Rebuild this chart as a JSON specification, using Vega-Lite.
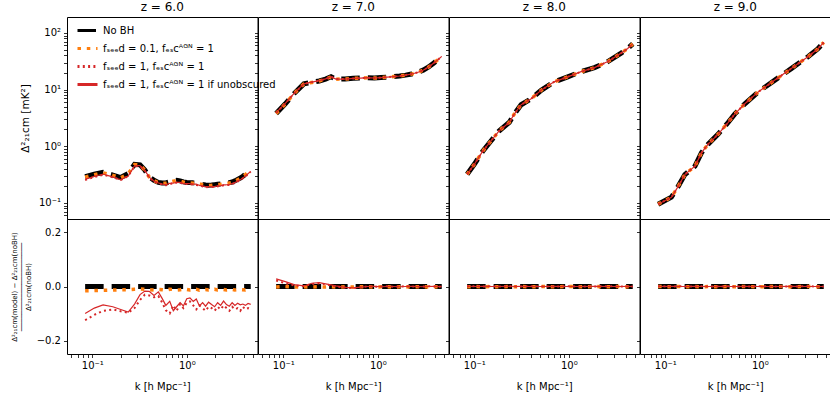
{
  "$schema": "https://vega.github.io/schema/vega-lite/v6.json",
  "padding": {"left": 9, "top": 0, "right": 0, "bottom": 0},
  "background": "white",
  "config": {
    "font": "DejaVu Sans",
    "view": {"stroke": "#000", "strokeWidth": 1},
    "axis": {"grid": false, "domain": false, "tickColor": "#000", "labelColor": "#000", "labelFontSize": 10, "titleColor": "#000", "titleFontWeight": "normal", "labelFlush": false, "labelOverlap": false, "tickWidth": 0.8},
    "title": {"fontSize": 12, "fontWeight": "normal", "offset": 3, "color": "#000"}
  },
  "data": {"values": [
    {"z":6,"k":0.084,"a":0.29,"b":0.285,"c":0.254,"d":0.261,"ra":0,"rb":-0.016,"rc":-0.125,"rd":-0.1},
    {"z":6,"k":0.105,"a":0.32,"b":0.315,"c":0.286,"d":0.294,"ra":0,"rb":-0.015,"rc":-0.105,"rd":-0.08},
    {"z":6,"k":0.13,"a":0.345,"b":0.34,"c":0.314,"d":0.322,"ra":0,"rb":-0.014,"rc":-0.09,"rd":-0.068},
    {"z":6,"k":0.165,"a":0.31,"b":0.306,"c":0.284,"d":0.287,"ra":0,"rb":-0.013,"rc":-0.085,"rd":-0.075},
    {"z":6,"k":0.2,"a":0.28,"b":0.277,"c":0.254,"d":0.256,"ra":0,"rb":-0.012,"rc":-0.092,"rd":-0.085},
    {"z":6,"k":0.24,"a":0.33,"b":0.326,"c":0.298,"d":0.299,"ra":0,"rb":-0.012,"rc":-0.097,"rd":-0.095},
    {"z":6,"k":0.28,"a":0.48,"b":0.475,"c":0.442,"d":0.449,"ra":0,"rb":-0.01,"rc":-0.08,"rd":-0.065},
    {"z":6,"k":0.32,"a":0.47,"b":0.466,"c":0.447,"d":0.456,"ra":0,"rb":-0.009,"rc":-0.05,"rd":-0.03},
    {"z":6,"k":0.36,"a":0.38,"b":0.376,"c":0.369,"d":0.374,"ra":0,"rb":-0.01,"rc":-0.03,"rd":-0.017},
    {"z":6,"k":0.4,"a":0.29,"b":0.287,"c":0.28,"d":0.285,"ra":0,"rb":-0.012,"rc":-0.033,"rd":-0.018},
    {"z":6,"k":0.45,"a":0.25,"b":0.247,"c":0.24,"d":0.242,"ra":0,"rb":-0.013,"rc":-0.04,"rd":-0.033},
    {"z":6,"k":0.5,"a":0.23,"b":0.227,"c":0.222,"d":0.225,"ra":0,"rb":-0.011,"rc":-0.035,"rd":-0.02},
    {"z":6,"k":0.55,"a":0.225,"b":0.222,"c":0.212,"d":0.215,"ra":0,"rb":-0.012,"rc":-0.06,"rd":-0.045},
    {"z":6,"k":0.6,"a":0.225,"b":0.222,"c":0.205,"d":0.209,"ra":0,"rb":-0.014,"rc":-0.088,"rd":-0.07},
    {"z":6,"k":0.66,"a":0.235,"b":0.233,"c":0.212,"d":0.222,"ra":0,"rb":-0.01,"rc":-0.1,"rd":-0.055},
    {"z":6,"k":0.72,"a":0.245,"b":0.242,"c":0.228,"d":0.223,"ra":0,"rb":-0.011,"rc":-0.07,"rd":-0.09},
    {"z":6,"k":0.78,"a":0.25,"b":0.247,"c":0.228,"d":0.231,"ra":0,"rb":-0.013,"rc":-0.09,"rd":-0.075},
    {"z":6,"k":0.85,"a":0.245,"b":0.242,"c":0.229,"d":0.23,"ra":0,"rb":-0.012,"rc":-0.065,"rd":-0.06},
    {"z":6,"k":0.92,"a":0.235,"b":0.233,"c":0.216,"d":0.218,"ra":0,"rb":-0.01,"rc":-0.08,"rd":-0.072},
    {"z":6,"k":1.0,"a":0.23,"b":0.227,"c":0.216,"d":0.22,"ra":0,"rb":-0.011,"rc":-0.06,"rd":-0.045},
    {"z":6,"k":1.08,"a":0.228,"b":0.225,"c":0.215,"d":0.218,"ra":0,"rb":-0.013,"rc":-0.055,"rd":-0.042},
    {"z":6,"k":1.17,"a":0.226,"b":0.223,"c":0.21,"d":0.214,"ra":0,"rb":-0.012,"rc":-0.07,"rd":-0.055},
    {"z":6,"k":1.26,"a":0.225,"b":0.223,"c":0.206,"d":0.215,"ra":0,"rb":-0.01,"rc":-0.085,"rd":-0.046},
    {"z":6,"k":1.36,"a":0.22,"b":0.217,"c":0.205,"d":0.204,"ra":0,"rb":-0.014,"rc":-0.07,"rd":-0.072},
    {"z":6,"k":1.47,"a":0.212,"b":0.209,"c":0.195,"d":0.199,"ra":0,"rb":-0.012,"rc":-0.08,"rd":-0.06},
    {"z":6,"k":1.58,"a":0.208,"b":0.206,"c":0.189,"d":0.193,"ra":0,"rb":-0.011,"rc":-0.09,"rd":-0.073},
    {"z":6,"k":1.7,"a":0.206,"b":0.203,"c":0.191,"d":0.194,"ra":0,"rb":-0.013,"rc":-0.075,"rd":-0.058},
    {"z":6,"k":1.83,"a":0.207,"b":0.205,"c":0.19,"d":0.193,"ra":0,"rb":-0.012,"rc":-0.08,"rd":-0.067},
    {"z":6,"k":1.97,"a":0.21,"b":0.208,"c":0.191,"d":0.194,"ra":0,"rb":-0.01,"rc":-0.09,"rd":-0.075},
    {"z":6,"k":2.12,"a":0.213,"b":0.21,"c":0.197,"d":0.2,"ra":0,"rb":-0.013,"rc":-0.075,"rd":-0.06},
    {"z":6,"k":2.28,"a":0.216,"b":0.213,"c":0.198,"d":0.201,"ra":0,"rb":-0.012,"rc":-0.085,"rd":-0.07},
    {"z":6,"k":2.45,"a":0.22,"b":0.218,"c":0.205,"d":0.208,"ra":0,"rb":-0.011,"rc":-0.07,"rd":-0.054},
    {"z":6,"k":2.63,"a":0.224,"b":0.221,"c":0.206,"d":0.209,"ra":0,"rb":-0.013,"rc":-0.08,"rd":-0.067},
    {"z":6,"k":2.82,"a":0.228,"b":0.225,"c":0.207,"d":0.211,"ra":0,"rb":-0.012,"rc":-0.09,"rd":-0.073},
    {"z":6,"k":3.02,"a":0.234,"b":0.231,"c":0.216,"d":0.22,"ra":0,"rb":-0.011,"rc":-0.075,"rd":-0.06},
    {"z":6,"k":3.23,"a":0.245,"b":0.242,"c":0.224,"d":0.228,"ra":0,"rb":-0.013,"rc":-0.085,"rd":-0.07},
    {"z":6,"k":3.45,"a":0.26,"b":0.257,"c":0.239,"d":0.244,"ra":0,"rb":-0.012,"rc":-0.08,"rd":-0.062},
    {"z":6,"k":3.68,"a":0.275,"b":0.272,"c":0.25,"d":0.256,"ra":0,"rb":-0.011,"rc":-0.09,"rd":-0.068},
    {"z":6,"k":3.92,"a":0.295,"b":0.291,"c":0.273,"d":0.276,"ra":0,"rb":-0.012,"rc":-0.075,"rd":-0.065},
    {"z":6,"k":4.17,"a":0.32,"b":0.316,"c":0.293,"d":0.298,"ra":0,"rb":-0.013,"rc":-0.085,"rd":-0.07},
    {"z":6,"k":4.45,"a":0.35,"b":0.346,"c":0.322,"d":0.328,"ra":0,"rb":-0.011,"rc":-0.08,"rd":-0.063},
    {"z":6,"k":4.75,"a":0.385,"b":0.38,"c":0.352,"d":0.36,"ra":0,"rb":-0.012,"rc":-0.085,"rd":-0.066},
    {"z":7,"k":0.084,"a":3.8,"b":3.79,"c":3.88,"d":3.91,"ra":0,"rb":-0.002,"rc":0.022,"rd":0.028},
    {"z":7,"k":0.105,"a":5.6,"b":5.6,"c":5.67,"d":5.7,"ra":0,"rb":0,"rc":0.012,"rd":0.018},
    {"z":7,"k":0.13,"a":8.5,"b":8.48,"c":8.53,"d":8.56,"ra":0,"rb":-0.002,"rc":0.004,"rd":0.007},
    {"z":7,"k":0.165,"a":12.6,"b":12.59,"c":12.61,"d":12.63,"ra":0,"rb":-0.001,"rc":0.001,"rd":0.002},
    {"z":7,"k":0.2,"a":13.4,"b":13.37,"c":13.52,"d":13.56,"ra":0,"rb":-0.002,"rc":0.009,"rd":0.012},
    {"z":7,"k":0.24,"a":14.2,"b":14.19,"c":14.37,"d":14.4,"ra":0,"rb":-0.001,"rc":0.012,"rd":0.014},
    {"z":7,"k":0.28,"a":15.3,"b":15.27,"c":15.42,"d":15.45,"ra":0,"rb":-0.002,"rc":0.008,"rd":0.01},
    {"z":7,"k":0.32,"a":16.8,"b":16.78,"c":16.87,"d":16.9,"ra":0,"rb":-0.001,"rc":0.004,"rd":0.006},
    {"z":7,"k":0.36,"a":15.3,"b":15.27,"c":15.3,"d":15.33,"ra":0,"rb":-0.002,"rc":0,"rd":0.002},
    {"z":7,"k":0.45,"a":15.4,"b":15.38,"c":15.34,"d":15.35,"ra":0,"rb":-0.001,"rc":-0.004,"rd":-0.003},
    {"z":7,"k":0.55,"a":15.8,"b":15.77,"c":15.71,"d":15.72,"ra":0,"rb":-0.002,"rc":-0.006,"rd":-0.005},
    {"z":7,"k":0.66,"a":16.0,"b":15.98,"c":15.95,"d":15.97,"ra":0,"rb":-0.001,"rc":-0.003,"rd":-0.002},
    {"z":7,"k":0.78,"a":16.2,"b":16.18,"c":16.22,"d":16.2,"ra":0,"rb":-0.001,"rc":0.001,"rd":0},
    {"z":7,"k":0.92,"a":16.0,"b":15.97,"c":15.98,"d":16.02,"ra":0,"rb":-0.002,"rc":-0.001,"rd":0.001},
    {"z":7,"k":1.08,"a":16.3,"b":16.28,"c":16.3,"d":16.28,"ra":0,"rb":-0.001,"rc":0,"rd":-0.001},
    {"z":7,"k":1.26,"a":16.6,"b":16.58,"c":16.62,"d":16.6,"ra":0,"rb":-0.001,"rc":0.001,"rd":0},
    {"z":7,"k":1.47,"a":17.0,"b":16.97,"c":16.98,"d":17.0,"ra":0,"rb":-0.002,"rc":-0.001,"rd":0},
    {"z":7,"k":1.7,"a":17.4,"b":17.38,"c":17.4,"d":17.38,"ra":0,"rb":-0.001,"rc":0,"rd":-0.001},
    {"z":7,"k":1.97,"a":18.0,"b":17.98,"c":18.02,"d":18.0,"ra":0,"rb":-0.001,"rc":0.001,"rd":0},
    {"z":7,"k":2.28,"a":18.8,"b":18.76,"c":18.8,"d":18.82,"ra":0,"rb":-0.002,"rc":0,"rd":0.001},
    {"z":7,"k":2.63,"a":20.0,"b":19.98,"c":19.98,"d":20.0,"ra":0,"rb":-0.001,"rc":-0.001,"rd":0},
    {"z":7,"k":3.02,"a":22.0,"b":21.98,"c":22.0,"d":21.98,"ra":0,"rb":-0.001,"rc":0,"rd":-0.001},
    {"z":7,"k":3.45,"a":25.0,"b":24.95,"c":25.03,"d":25.0,"ra":0,"rb":-0.002,"rc":0.001,"rd":0},
    {"z":7,"k":3.92,"a":29.5,"b":29.47,"c":29.5,"d":29.53,"ra":0,"rb":-0.001,"rc":0,"rd":0.001},
    {"z":7,"k":4.45,"a":35.0,"b":34.97,"c":34.97,"d":35.0,"ra":0,"rb":-0.001,"rc":-0.001,"rd":0},
    {"z":7,"k":4.75,"a":38.5,"b":38.46,"c":38.5,"d":38.5,"ra":0,"rb":-0.001,"rc":0,"rd":0},
    {"z":8,"k":0.084,"a":0.32,"b":0.32,"c":0.32,"d":0.32,"ra":0,"rb":-0.001,"rc":0.001,"rd":0.001},
    {"z":8,"k":0.1,"a":0.48,"b":0.48,"c":0.48,"d":0.48,"ra":0,"rb":0,"rc":0.001,"rd":0},
    {"z":8,"k":0.123,"a":0.82,"b":0.82,"c":0.82,"d":0.82,"ra":0,"rb":-0.001,"rc":0,"rd":0.001},
    {"z":8,"k":0.15,"a":1.24,"b":1.24,"c":1.24,"d":1.24,"ra":0,"rb":0,"rc":0.001,"rd":0},
    {"z":8,"k":0.184,"a":1.88,"b":1.88,"c":1.88,"d":1.88,"ra":0,"rb":-0.001,"rc":0,"rd":0},
    {"z":8,"k":0.235,"a":2.65,"b":2.65,"c":2.65,"d":2.65,"ra":0,"rb":0,"rc":0.001,"rd":0.001},
    {"z":8,"k":0.265,"a":3.7,"b":3.7,"c":3.7,"d":3.7,"ra":0,"rb":-0.001,"rc":0,"rd":0},
    {"z":8,"k":0.313,"a":5.4,"b":5.4,"c":5.4,"d":5.4,"ra":0,"rb":0,"rc":0,"rd":0.001},
    {"z":8,"k":0.4,"a":6.9,"b":6.9,"c":6.9,"d":6.9,"ra":0,"rb":-0.001,"rc":0.001,"rd":0},
    {"z":8,"k":0.51,"a":9.7,"b":9.7,"c":9.7,"d":9.7,"ra":0,"rb":0,"rc":0,"rd":0},
    {"z":8,"k":0.7,"a":13.7,"b":13.7,"c":13.7,"d":13.7,"ra":0,"rb":-0.001,"rc":0,"rd":0.001},
    {"z":8,"k":0.975,"a":16.8,"b":16.8,"c":16.8,"d":16.8,"ra":0,"rb":0,"rc":0.001,"rd":0},
    {"z":8,"k":1.35,"a":20.7,"b":20.7,"c":20.7,"d":20.7,"ra":0,"rb":-0.001,"rc":0,"rd":0},
    {"z":8,"k":1.87,"a":24.4,"b":24.4,"c":24.4,"d":24.4,"ra":0,"rb":0,"rc":0,"rd":0.001},
    {"z":8,"k":2.59,"a":31.2,"b":31.2,"c":31.2,"d":31.2,"ra":0,"rb":-0.001,"rc":0.001,"rd":0},
    {"z":8,"k":3.58,"a":44,"b":44,"c":44,"d":44,"ra":0,"rb":0,"rc":0,"rd":0},
    {"z":8,"k":4.2,"a":53,"b":53,"c":53,"d":53,"ra":0,"rb":-0.001,"rc":0,"rd":0.001},
    {"z":8,"k":4.75,"a":64,"b":64,"c":64,"d":64,"ra":0,"rb":0,"rc":0,"rd":0},
    {"z":9,"k":0.084,"a":0.095,"b":0.095,"c":0.095,"d":0.095,"ra":0,"rb":0,"rc":0.001,"rd":0},
    {"z":9,"k":0.116,"a":0.126,"b":0.126,"c":0.126,"d":0.126,"ra":0,"rb":-0.001,"rc":0,"rd":0.001},
    {"z":9,"k":0.137,"a":0.196,"b":0.196,"c":0.196,"d":0.196,"ra":0,"rb":0,"rc":0.001,"rd":0},
    {"z":9,"k":0.161,"a":0.316,"b":0.316,"c":0.316,"d":0.316,"ra":0,"rb":-0.001,"rc":0,"rd":0},
    {"z":9,"k":0.206,"a":0.446,"b":0.446,"c":0.446,"d":0.446,"ra":0,"rb":0,"rc":0,"rd":0.001},
    {"z":9,"k":0.242,"a":0.77,"b":0.77,"c":0.77,"d":0.77,"ra":0,"rb":-0.001,"rc":0.001,"rd":0},
    {"z":9,"k":0.284,"a":1.09,"b":1.09,"c":1.09,"d":1.09,"ra":0,"rb":0,"rc":0,"rd":0},
    {"z":9,"k":0.363,"a":1.64,"b":1.64,"c":1.64,"d":1.64,"ra":0,"rb":-0.001,"rc":0,"rd":0.001},
    {"z":9,"k":0.464,"a":2.65,"b":2.65,"c":2.65,"d":2.65,"ra":0,"rb":0,"rc":0.001,"rd":0},
    {"z":9,"k":0.545,"a":3.73,"b":3.73,"c":3.73,"d":3.73,"ra":0,"rb":-0.001,"rc":0,"rd":0},
    {"z":9,"k":0.695,"a":5.62,"b":5.62,"c":5.62,"d":5.62,"ra":0,"rb":0,"rc":0,"rd":0.001},
    {"z":9,"k":0.964,"a":9.1,"b":9.1,"c":9.1,"d":9.1,"ra":0,"rb":-0.001,"rc":0.001,"rd":0},
    {"z":9,"k":1.445,"a":14.7,"b":14.7,"c":14.7,"d":14.7,"ra":0,"rb":0,"rc":0,"rd":0},
    {"z":9,"k":2.17,"a":23.7,"b":23.7,"c":23.7,"d":23.7,"ra":0,"rb":-0.001,"rc":0,"rd":0.001},
    {"z":9,"k":3.26,"a":38.4,"b":38.4,"c":38.4,"d":38.4,"ra":0,"rb":0,"rc":0.001,"rd":0},
    {"z":9,"k":4.1,"a":52,"b":52,"c":52,"d":52,"ra":0,"rb":-0.001,"rc":0,"rd":0},
    {"z":9,"k":4.75,"a":68,"b":68,"c":68,"d":68,"ra":0,"rb":0,"rc":0,"rd":0}
  ]},
  "resolve": {"scale": {"color": "independent", "strokeDash": "independent"}, "legend": {"color": "independent", "strokeDash": "independent"}},
  "columns": 4,
  "spacing": 0,
  "bounds": "flush",
  "concat": [
    {
      "width": 190.5, "height": 202, "title": "z = 6.0",
      "transform": [{"filter": "datum.z == 6"}],
      "encoding": {"x": {"field": "k", "type": "quantitative", "scale": {"type": "log", "domain": [0.054, 5.6], "nice": false}, "axis": null}},
      "layer": [
        {"mark": {"type": "line", "strokeWidth": 5},
         "encoding": {
           "y": {"field": "a", "type": "quantitative", "scale": {"type": "log", "domain": [0.052, 191], "nice": false},
                 "axis": {"values": [0.06,0.07,0.08,0.09,0.1,0.2,0.3,0.4,0.5,0.6,0.7,0.8,0.9,1,2,3,4,5,6,7,8,9,10,20,30,40,50,60,70,80,90,100],
                          "labelExpr": "datum.value == 0.1 ? '10⁻¹' : datum.value == 1 ? '10⁰' : datum.value == 10 ? '10¹' : datum.value == 100 ? '10²' : ''",
                          "tickSize": 3.5, "labelPadding": 3, "title": "Δ²₂₁cm [mK²]", "titleFontSize": 10.5, "titlePadding": 8,
                          "encode": {"ticks": {"x2": {"condition": {"test": "datum.value == 0.1 || datum.value == 1 || datum.value == 10 || datum.value == 100", "value": -3.5}, "value": -2}}}}},
           "color": {"datum": "No BH", "scale": {"domain": ["No BH", "fₛₑₑd = 0.1, fₑₛcᴬᴳᴺ = 1", "fₛₑₑd = 1, fₑₛcᴬᴳᴺ = 1", "fₛₑₑd = 1, fₑₛcᴬᴳᴺ = 1 if unobscured"], "range": ["#000000", "#ff7f0e", "#d62728", "#d62728"]},
                     "legend": {"orient": "none", "legendX": 9, "legendY": 2, "title": null, "symbolType": "stroke", "symbolSize": 400, "symbolStrokeWidth": 3, "labelFontSize": 10, "padding": 0, "rowPadding": 0, "labelOffset": 4, "labelLimit": 300}},
           "strokeDash": {"datum": "No BH", "scale": {"domain": ["No BH", "fₛₑₑd = 0.1, fₑₛcᴬᴳᴺ = 1", "fₛₑₑd = 1, fₑₛcᴬᴳᴺ = 1", "fₛₑₑd = 1, fₑₛcᴬᴳᴺ = 1 if unobscured"], "range": [[18.5, 8], [3.5, 5.8], [2, 3.3], [1, 0]]},
                          "legend": {"orient": "none", "legendX": 9, "legendY": 2, "title": null, "symbolType": "stroke", "symbolSize": 400, "symbolStrokeWidth": 3, "labelFontSize": 10, "padding": 0, "rowPadding": 0, "labelOffset": 4, "labelLimit": 300}}
         }},
        {"mark": {"type": "line", "strokeWidth": 3.5},
         "encoding": {"y": {"field": "b", "type": "quantitative",
                 "axis": {"values": [0.06,0.07,0.08,0.09,0.1,0.2,0.3,0.4,0.5,0.6,0.7,0.8,0.9,1,2,3,4,5,6,7,8,9,10,20,30,40,50,60,70,80,90,100],
                          "labelExpr": "datum.value == 0.1 ? '10⁻¹' : datum.value == 1 ? '10⁰' : datum.value == 10 ? '10¹' : datum.value == 100 ? '10²' : ''",
                          "tickSize": 3.5, "labelPadding": 3, "title": "Δ²₂₁cm [mK²]", "titleFontSize": 10.5, "titlePadding": 8,
                          "encode": {"ticks": {"x2": {"condition": {"test": "datum.value == 0.1 || datum.value == 1 || datum.value == 10 || datum.value == 100", "value": -3.5}, "value": -2}}}}},
                      "color": {"datum": "fₛₑₑd = 0.1, fₑₛcᴬᴳᴺ = 1"}, "strokeDash": {"datum": "fₛₑₑd = 0.1, fₑₛcᴬᴳᴺ = 1"}}},
        {"mark": {"type": "line", "strokeWidth": 2},
         "encoding": {"y": {"field": "c", "type": "quantitative",
                 "axis": {"values": [0.06,0.07,0.08,0.09,0.1,0.2,0.3,0.4,0.5,0.6,0.7,0.8,0.9,1,2,3,4,5,6,7,8,9,10,20,30,40,50,60,70,80,90,100],
                          "labelExpr": "datum.value == 0.1 ? '10⁻¹' : datum.value == 1 ? '10⁰' : datum.value == 10 ? '10¹' : datum.value == 100 ? '10²' : ''",
                          "tickSize": 3.5, "labelPadding": 3, "title": "Δ²₂₁cm [mK²]", "titleFontSize": 10.5, "titlePadding": 8,
                          "encode": {"ticks": {"x2": {"condition": {"test": "datum.value == 0.1 || datum.value == 1 || datum.value == 10 || datum.value == 100", "value": -3.5}, "value": -2}}}}},
                      "color": {"datum": "fₛₑₑd = 1, fₑₛcᴬᴳᴺ = 1"}, "strokeDash": {"datum": "fₛₑₑd = 1, fₑₛcᴬᴳᴺ = 1"}}},
        {"mark": {"type": "line", "strokeWidth": 1.2},
         "encoding": {"y": {"field": "d", "type": "quantitative",
                 "axis": {"values": [0.06,0.07,0.08,0.09,0.1,0.2,0.3,0.4,0.5,0.6,0.7,0.8,0.9,1,2,3,4,5,6,7,8,9,10,20,30,40,50,60,70,80,90,100],
                          "labelExpr": "datum.value == 0.1 ? '10⁻¹' : datum.value == 1 ? '10⁰' : datum.value == 10 ? '10¹' : datum.value == 100 ? '10²' : ''",
                          "tickSize": 3.5, "labelPadding": 3, "title": "Δ²₂₁cm [mK²]", "titleFontSize": 10.5, "titlePadding": 8,
                          "encode": {"ticks": {"x2": {"condition": {"test": "datum.value == 0.1 || datum.value == 1 || datum.value == 10 || datum.value == 100", "value": -3.5}, "value": -2}}}}},
                      "color": {"datum": "fₛₑₑd = 1, fₑₛcᴬᴳᴺ = 1 if unobscured"}, "strokeDash": {"datum": "fₛₑₑd = 1, fₑₛcᴬᴳᴺ = 1 if unobscured"}}}
      ]
    },
    {
      "width": 190.5, "height": 202, "title": "z = 7.0",
      "transform": [{"filter": "datum.z == 7"}],
      "encoding": {"x": {"field": "k", "type": "quantitative", "scale": {"type": "log", "domain": [0.054, 5.6], "nice": false}, "axis": null}},
      "layer": [
        {"mark": {"type": "line", "strokeWidth": 5, "color": "#000000", "strokeDash": [18.5, 8]},
         "encoding": {"y": {"field": "a", "type": "quantitative", "scale": {"type": "log", "domain": [0.052, 191], "nice": false},
                 "axis": {"values": [0.06,0.07,0.08,0.09,0.1,0.2,0.3,0.4,0.5,0.6,0.7,0.8,0.9,1,2,3,4,5,6,7,8,9,10,20,30,40,50,60,70,80,90,100], "labels": false, "title": null, "tickSize": 3.5,
                          "encode": {"ticks": {"x2": {"condition": {"test": "datum.value == 0.1 || datum.value == 1 || datum.value == 10 || datum.value == 100", "value": -3.5}, "value": -2}}}}}}},
        {"mark": {"type": "line", "strokeWidth": 3.5, "color": "#ff7f0e", "strokeDash": [3.5, 5.8]}, "encoding": {"y": {"field": "b", "type": "quantitative", "title": null}}},
        {"mark": {"type": "line", "strokeWidth": 2, "color": "#d62728", "strokeDash": [2, 3.3]}, "encoding": {"y": {"field": "c", "type": "quantitative", "title": null}}},
        {"mark": {"type": "line", "strokeWidth": 1.2, "color": "#d62728"}, "encoding": {"y": {"field": "d", "type": "quantitative", "title": null}}}
      ]
    },
    {
      "width": 190.5, "height": 202, "title": "z = 8.0",
      "transform": [{"filter": "datum.z == 8"}],
      "encoding": {"x": {"field": "k", "type": "quantitative", "scale": {"type": "log", "domain": [0.054, 5.6], "nice": false}, "axis": null}},
      "layer": [
        {"mark": {"type": "line", "strokeWidth": 5, "color": "#000000", "strokeDash": [18.5, 8]},
         "encoding": {"y": {"field": "a", "type": "quantitative", "scale": {"type": "log", "domain": [0.052, 191], "nice": false},
                 "axis": {"values": [0.06,0.07,0.08,0.09,0.1,0.2,0.3,0.4,0.5,0.6,0.7,0.8,0.9,1,2,3,4,5,6,7,8,9,10,20,30,40,50,60,70,80,90,100], "labels": false, "title": null, "tickSize": 3.5,
                          "encode": {"ticks": {"x2": {"condition": {"test": "datum.value == 0.1 || datum.value == 1 || datum.value == 10 || datum.value == 100", "value": -3.5}, "value": -2}}}}}}},
        {"mark": {"type": "line", "strokeWidth": 3.5, "color": "#ff7f0e", "strokeDash": [3.5, 5.8]}, "encoding": {"y": {"field": "b", "type": "quantitative", "title": null}}},
        {"mark": {"type": "line", "strokeWidth": 2, "color": "#d62728", "strokeDash": [2, 3.3]}, "encoding": {"y": {"field": "c", "type": "quantitative", "title": null}}},
        {"mark": {"type": "line", "strokeWidth": 1.2, "color": "#d62728"}, "encoding": {"y": {"field": "d", "type": "quantitative", "title": null}}}
      ]
    },
    {
      "width": 190.5, "height": 202, "title": "z = 9.0",
      "transform": [{"filter": "datum.z == 9"}],
      "encoding": {"x": {"field": "k", "type": "quantitative", "scale": {"type": "log", "domain": [0.054, 5.6], "nice": false}, "axis": null}},
      "layer": [
        {"mark": {"type": "line", "strokeWidth": 5, "color": "#000000", "strokeDash": [18.5, 8]},
         "encoding": {"y": {"field": "a", "type": "quantitative", "scale": {"type": "log", "domain": [0.052, 191], "nice": false},
                 "axis": {"values": [0.06,0.07,0.08,0.09,0.1,0.2,0.3,0.4,0.5,0.6,0.7,0.8,0.9,1,2,3,4,5,6,7,8,9,10,20,30,40,50,60,70,80,90,100], "labels": false, "title": null, "tickSize": 3.5,
                          "encode": {"ticks": {"x2": {"condition": {"test": "datum.value == 0.1 || datum.value == 1 || datum.value == 10 || datum.value == 100", "value": -3.5}, "value": -2}}}}}}},
        {"mark": {"type": "line", "strokeWidth": 3.5, "color": "#ff7f0e", "strokeDash": [3.5, 5.8]}, "encoding": {"y": {"field": "b", "type": "quantitative", "title": null}}},
        {"mark": {"type": "line", "strokeWidth": 2, "color": "#d62728", "strokeDash": [2, 3.3]}, "encoding": {"y": {"field": "c", "type": "quantitative", "title": null}}},
        {"mark": {"type": "line", "strokeWidth": 1.2, "color": "#d62728"}, "encoding": {"y": {"field": "d", "type": "quantitative", "title": null}}}
      ]
    },
    {
      "width": 190.5, "height": 135,
      "transform": [{"filter": "datum.z == 6"}],
      "encoding": {"x": {"field": "k", "type": "quantitative", "scale": {"type": "log", "domain": [0.054, 5.6], "nice": false},
                         "axis": {"values": [0.06,0.07,0.08,0.09,0.1,0.2,0.3,0.4,0.5,0.6,0.7,0.8,0.9,1,2,3,4,5], "labelExpr": "datum.value == 0.1 ? '10⁻¹' : datum.value == 1 ? '10⁰' : ''", "tickSize": 3.5, "labelPadding": 3, "title": "k [h Mpc⁻¹]", "titleFontSize": 10, "titlePadding": 11,
                                  "encode": {"ticks": {"y2": {"condition": {"test": "datum.value == 0.1 || datum.value == 1", "value": 3.5}, "value": 2}}}}}},
      "layer": [
        {"mark": {"type": "line", "strokeWidth": 5, "color": "#000000", "strokeDash": [18.5, 8]},
         "encoding": {"y": {"field": "ra", "type": "quantitative", "scale": {"domain": [-0.25, 0.25], "nice": false, "zero": false},
                 "axis": {"values": [-0.2, -0.1, 0, 0.1, 0.2], "format": ".1f", "tickSize": 3.5, "labelPadding": 3,
                          "title": ["Δ²₂₁cm(model) − Δ²₂₁cm(noBH)", "─────────────────────", "Δ²₂₁cm(noBH)"], "titleFontSize": 7, "titleLineHeight": 7, "titlePadding": 5}}}},
        {"mark": {"type": "line", "strokeWidth": 3.5, "color": "#ff7f0e", "strokeDash": [3.5, 5.8]}, "encoding": {"y": {"field": "rb", "type": "quantitative", "title": ["Δ²₂₁cm(model) − Δ²₂₁cm(noBH)", "─────────────────────", "Δ²₂₁cm(noBH)"]}}},
        {"mark": {"type": "line", "strokeWidth": 2, "color": "#d62728", "strokeDash": [2, 3.3]}, "encoding": {"y": {"field": "rc", "type": "quantitative", "title": ["Δ²₂₁cm(model) − Δ²₂₁cm(noBH)", "─────────────────────", "Δ²₂₁cm(noBH)"]}}},
        {"mark": {"type": "line", "strokeWidth": 1.2, "color": "#d62728"}, "encoding": {"y": {"field": "rd", "type": "quantitative", "title": ["Δ²₂₁cm(model) − Δ²₂₁cm(noBH)", "─────────────────────", "Δ²₂₁cm(noBH)"]}}}
      ]
    },
    {
      "width": 190.5, "height": 135,
      "transform": [{"filter": "datum.z == 7"}],
      "encoding": {"x": {"field": "k", "type": "quantitative", "scale": {"type": "log", "domain": [0.054, 5.6], "nice": false},
                         "axis": {"values": [0.06,0.07,0.08,0.09,0.1,0.2,0.3,0.4,0.5,0.6,0.7,0.8,0.9,1,2,3,4,5], "labelExpr": "datum.value == 0.1 ? '10⁻¹' : datum.value == 1 ? '10⁰' : ''", "tickSize": 3.5, "labelPadding": 3, "title": "k [h Mpc⁻¹]", "titleFontSize": 10, "titlePadding": 11,
                                  "encode": {"ticks": {"y2": {"condition": {"test": "datum.value == 0.1 || datum.value == 1", "value": 3.5}, "value": 2}}}}}},
      "layer": [
        {"mark": {"type": "line", "strokeWidth": 5, "color": "#000000", "strokeDash": [18.5, 8]},
         "encoding": {"y": {"field": "ra", "type": "quantitative", "scale": {"domain": [-0.25, 0.25], "nice": false, "zero": false},
                 "axis": {"values": [-0.2, -0.1, 0, 0.1, 0.2], "labels": false, "title": null, "tickSize": 3.5}}}},
        {"mark": {"type": "line", "strokeWidth": 3.5, "color": "#ff7f0e", "strokeDash": [3.5, 5.8]}, "encoding": {"y": {"field": "rb", "type": "quantitative", "title": null}}},
        {"mark": {"type": "line", "strokeWidth": 2, "color": "#d62728", "strokeDash": [2, 3.3]}, "encoding": {"y": {"field": "rc", "type": "quantitative", "title": null}}},
        {"mark": {"type": "line", "strokeWidth": 1.2, "color": "#d62728"}, "encoding": {"y": {"field": "rd", "type": "quantitative", "title": null}}}
      ]
    },
    {
      "width": 190.5, "height": 135,
      "transform": [{"filter": "datum.z == 8"}],
      "encoding": {"x": {"field": "k", "type": "quantitative", "scale": {"type": "log", "domain": [0.054, 5.6], "nice": false},
                         "axis": {"values": [0.06,0.07,0.08,0.09,0.1,0.2,0.3,0.4,0.5,0.6,0.7,0.8,0.9,1,2,3,4,5], "labelExpr": "datum.value == 0.1 ? '10⁻¹' : datum.value == 1 ? '10⁰' : ''", "tickSize": 3.5, "labelPadding": 3, "title": "k [h Mpc⁻¹]", "titleFontSize": 10, "titlePadding": 11,
                                  "encode": {"ticks": {"y2": {"condition": {"test": "datum.value == 0.1 || datum.value == 1", "value": 3.5}, "value": 2}}}}}},
      "layer": [
        {"mark": {"type": "line", "strokeWidth": 5, "color": "#000000", "strokeDash": [18.5, 8]},
         "encoding": {"y": {"field": "ra", "type": "quantitative", "scale": {"domain": [-0.25, 0.25], "nice": false, "zero": false},
                 "axis": {"values": [-0.2, -0.1, 0, 0.1, 0.2], "labels": false, "title": null, "tickSize": 3.5}}}},
        {"mark": {"type": "line", "strokeWidth": 3.5, "color": "#ff7f0e", "strokeDash": [3.5, 5.8]}, "encoding": {"y": {"field": "rb", "type": "quantitative", "title": null}}},
        {"mark": {"type": "line", "strokeWidth": 2, "color": "#d62728", "strokeDash": [2, 3.3]}, "encoding": {"y": {"field": "rc", "type": "quantitative", "title": null}}},
        {"mark": {"type": "line", "strokeWidth": 1.2, "color": "#d62728"}, "encoding": {"y": {"field": "rd", "type": "quantitative", "title": null}}}
      ]
    },
    {
      "width": 190.5, "height": 135,
      "transform": [{"filter": "datum.z == 9"}],
      "encoding": {"x": {"field": "k", "type": "quantitative", "scale": {"type": "log", "domain": [0.054, 5.6], "nice": false},
                         "axis": {"values": [0.06,0.07,0.08,0.09,0.1,0.2,0.3,0.4,0.5,0.6,0.7,0.8,0.9,1,2,3,4,5], "labelExpr": "datum.value == 0.1 ? '10⁻¹' : datum.value == 1 ? '10⁰' : ''", "tickSize": 3.5, "labelPadding": 3, "title": "k [h Mpc⁻¹]", "titleFontSize": 10, "titlePadding": 11,
                                  "encode": {"ticks": {"y2": {"condition": {"test": "datum.value == 0.1 || datum.value == 1", "value": 3.5}, "value": 2}}}}}},
      "layer": [
        {"mark": {"type": "line", "strokeWidth": 5, "color": "#000000", "strokeDash": [18.5, 8]},
         "encoding": {"y": {"field": "ra", "type": "quantitative", "scale": {"domain": [-0.25, 0.25], "nice": false, "zero": false},
                 "axis": {"values": [-0.2, -0.1, 0, 0.1, 0.2], "labels": false, "title": null, "tickSize": 3.5}}}},
        {"mark": {"type": "line", "strokeWidth": 3.5, "color": "#ff7f0e", "strokeDash": [3.5, 5.8]}, "encoding": {"y": {"field": "rb", "type": "quantitative", "title": null}}},
        {"mark": {"type": "line", "strokeWidth": 2, "color": "#d62728", "strokeDash": [2, 3.3]}, "encoding": {"y": {"field": "rc", "type": "quantitative", "title": null}}},
        {"mark": {"type": "line", "strokeWidth": 1.2, "color": "#d62728"}, "encoding": {"y": {"field": "rd", "type": "quantitative", "title": null}}}
      ]
    }
  ]
}
